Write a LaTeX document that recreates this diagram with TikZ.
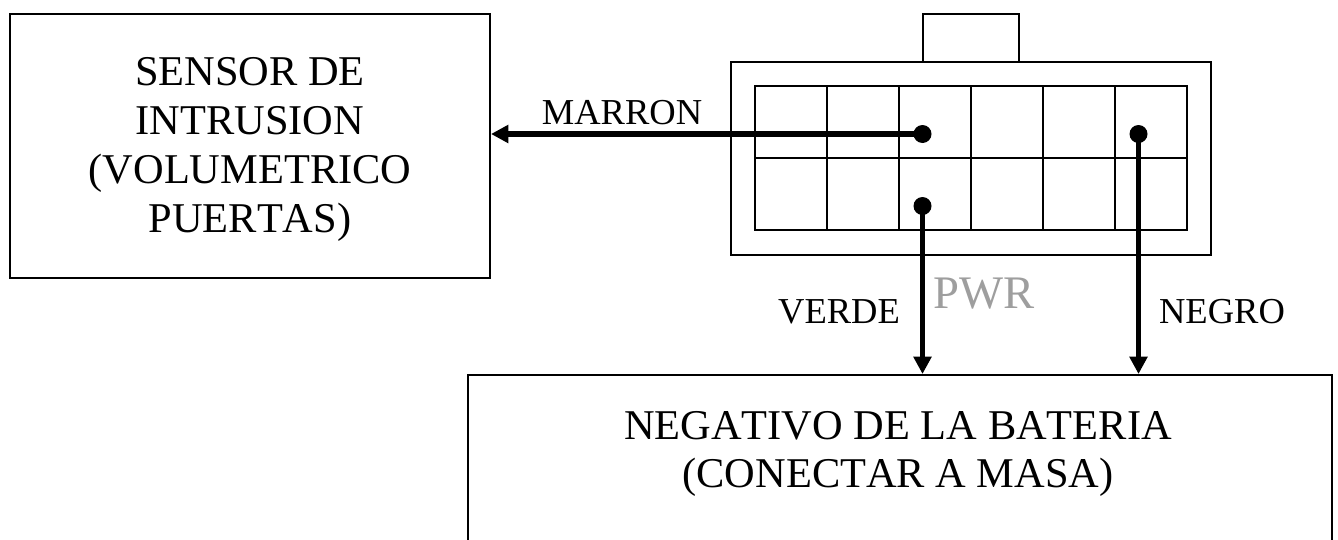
\documentclass[tikz,border=0pt]{standalone}
\usepackage{fontspec}
\setmainfont[Kerning=Off]{Liberation Serif}
\usetikzlibrary{arrows.meta}

\tikzset{
    block/.style={draw, line width=1.5pt, rectangle, inner sep=0pt},
    blocktext/.style={align=center, inner sep=0pt, font=\bigtext},
    cable/.style={line width=3.8pt, -{Triangle[length=13pt, width=13pt]}},
    pin/.style={circle, fill=black, inner sep=0pt, minimum size=13.5pt},
    wirelabel/.style={anchor=base, inner sep=0pt, font=\smalltext},
    housing/.style={line width=1.5pt}
}
\newcommand{\bigtext}{\fontsize{31.8pt}{36.6pt}\selectfont}
\newcommand{\smalltext}{\fontsize{27.4pt}{32pt}\selectfont}

\begin{document}
\begin{tikzpicture}[x=0.75pt, y=-0.75pt]
    \useasboundingbox (0,0) rectangle (1338,539);

    % Sensor box and the battery box, which runs off the bottom of the page
    \node[block, minimum width=360pt, minimum height=198pt] (sensor) at (250,146) {};
    \node[blocktext] (sensortext) at (250,149.5) {SENSOR DE\\INTRUSION\\(VOLUMETRICO\\PUERTAS)};
    \node[block, minimum width=648pt, minimum height=150pt, anchor=north west] (bateria) at (467,374) {};
    \node[blocktext] (bateriatext) at (898,454) {NEGATIVO DE LA BATERIA\\(CONECTAR A MASA)};

    % Connector housing
    \draw[housing] (922.5,62) rectangle (1018.5,14);
    \draw[housing] (730.5,62) rectangle (1211,254.5);
    \draw[housing] (755,86) rectangle (1186.5,230);
    \draw[housing] (755,158) -- (1186.5,158);
    \foreach \xpos in {826.5,898.5,970.5,1042.5,1115} {
        \draw[housing] (\xpos,86) -- (\xpos,230);
    }

    % Pins
    \node[pin] (pinmarron) at (922.5,134) {};
    \node[pin] (pinnegro) at (1138.5,134) {};
    \node[pin] (pinverde) at (922.5,206) {};

    % Cables
    \draw[cable] (pinmarron.center) -- (pinmarron.center -| sensor.east);
    \draw[cable] (pinverde.center) -- (pinverde.center |- bateria.north);
    \draw[cable] (pinnegro.center) -- (pinnegro.center |- bateria.north);

    % Cable labels
    \node[wirelabel] (marron) at (622,124) {MARRON};
    \node[wirelabel] (verde) at (839,323) {VERDE};
    \node[wirelabel] (negro) at (1222,323) {NEGRO};
    \node[anchor=base, inner sep=0pt, text=black!38, font=\fontsize{35pt}{40pt}\selectfont] (pwr) at (984,308) {PWR};
\end{tikzpicture}
\end{document}
